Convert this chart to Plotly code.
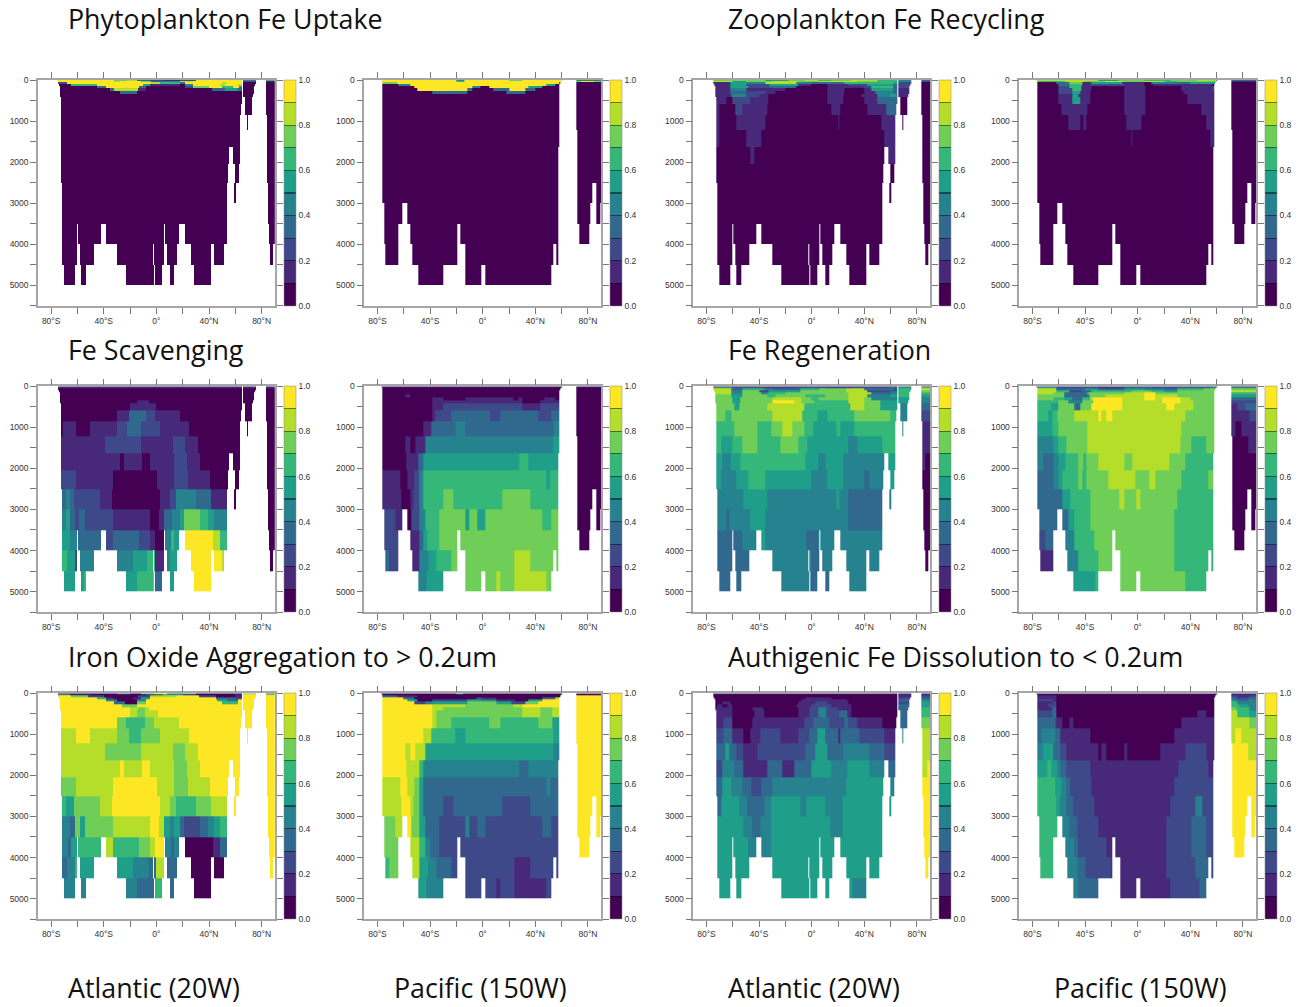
import numpy as np
import plotly.graph_objects as go

W, H = 1305, 1007

# Depth level edges (m) and latitude grid
DEPTH_EDGES = [0,30,60,100,150,200,260,330,420,590,855,1220,1620,2050,2510,3000,3500,4000,4500,5000]
LAT_EDGES = np.arange(-90, 90.01, 0.25)

# Colour classes, 0.0-0.1 ... 0.9-1.0
CLASS_COLORS = ["#440154","#482878","#3e4989","#31688e","#26828e","#1f9e89","#35b779","#6ece58","#b5de2b","#fde725"]
CBAR_TICKS = [0,0.2,0.4,0.6,0.8,1.0]
CBAR_LABELS = ["0.0","0.2","0.4","0.6","0.8","1.0"]
X_TICKS = list(range(-80,81,20))
X_LABELS = ["80°S","","40°S","","0°","","40°N","","80°N"]
Y_TICKS = list(range(0,5501,500))
Y_LABELS = ["0","","1000","","2000","","3000","","4000","","5000",""]

# Wet latitude intervals per depth level
ATL_WET = [
 [-75,65,66,75.5,83.3,90],[-75,65,66,75.5,83.3,90],[-74.5,65,66,75.5,83.3,90],[-74,65,66,75,83.3,90],
 [-73.5,65,66,74.5,83.3,90],[-73.5,65,66,74,83.3,90],[-73.5,65,66,74,83.3,90],[-73.5,65,66,73.5,83.3,90],
 [-72.7,65,67,73,83.3,90],[-72.5,64.6,67.4,72.5,83.3,90],[-72.5,63.4,68.4,69.4,84,90],[-72.5,63.4,84.2,90],
 [-72.5,55.6,58.6,63.4,84.2,90],[-72.5,54.5,59.8,62.6,84.2,90],[-71.5,53.5,59,60.6,84.6,90],[-71.5,53.5,84.6,90],
 [-71.5,-60.4,-59.3,-41.7,-38.4,5.6,6.6,17.4,21.5,53.5,85.4,90],
 [-71.5,-60.6,-58.3,-47.5,-30.3,-2.2,-1.5,5.5,7.8,15.7,26.5,41.4,43.4,51.5,86.4,89],
 [-70.5,-61.6,-57.6,-53.5,-23.2,-1.8,-0.8,4.3,10.4,13.4,28.5,41.4],
]
PAC_WET = [
 [-77,60.6,71,90],[-76.5,59.5,71,90],[-76,59,71,90],[-76,58,71,90],[-76,58,71,90],[-76,58,71,90],[-76,58,71,90],
 [-76,58,71,90],[-76,58,71,90],[-76,58,71,90],[-76,58,71,90],[-76,58,72,90],[-76,57.3,72,90],[-76,57.3,72,90],
 [-76,57.3,72,83,86.4,90],[-74.7,-60.9,-57.6,57.3,72,82,86.4,89.4],
 [-74.7,-63.9,-54.8,-19,-17,57.3,73.2,80.8],
 [-73.7,-63.9,-53.8,-19,-12.9,54,56,57.3],
 [-48.7,-29.8,-12.9,-0.8,2.3,52.3],
]

# Each level: class, next lat, class, next lat, class ...  Levels not listed are class 0.
UPTAKE_ATL = [
 [9,-32,7,-22,8,-15,3,-5,2,5,1,18,2,30,9,66,4,83,6],
 [9,-33,8,-28,9,-12,7,-4,3,4,4,18,8,28,9,66,2,83,1],
 [2,-68,9,-5,8,3,6,18,3,22,9,50,8,54,9,66,0],
 [0,-65,6,-45,9,-10,5,-5,1,18,0,22,4,28,9,48,8,52,9,62,8,66,0],
 [0,-45,3,-38,9,-13,3,-8,0,22,2,28,7,40,9,50,6,58,9,63,4,66,0],
 [0,-35,3,-32,8,-14,1,-8,0,42,3,52,5,62,3,66,0],
 [0,-28,3,-15,0],
]
UPTAKE_PAC = [
 [9,-20,4,-14,9,20,7,30,9,71,4],
 [9,-20,6,-14,9,71,7,75,9,85,7],
 [7,-65,9,58,0],
 [0,-64,4,-55,9,48,5,55,0],
 [0,-52,9,-8,4,-2,0,5,9,35,5,45,0],
 [0,-50,9,-40,9,-12,3,-8,0,8,3,20,9,32,3,40,0],
 [0,-38,3,-12,0,18,3,32,0],
]
RECYCLE_ATL = [
 [7,-35,5,-18,7,-5,8,5,6,15,7,30,8,50,6,66,4,83,3],
 [8,-60,5,-50,7,-30,8,-10,7,5,8,20,8,35,7,50,6,66,4,83,2],
 [1,-62,5,-50,4,-35,8,-12,4,0,3,25,6,62,5,66,2,83,0],
 [1,-62,5,-50,2,-32,5,-10,1,0,0,12,1,28,2,42,5,62,3,66,2,83,0],
 [1,-62,5,-48,2,-32,3,-12,0,12,1,28,1,40,2,45,6,62,3,66,2,83,0],
 [1,-62,4,-50,1,-32,1,-20,0,12,1,25,0,40,1,45,5,62,3,66,1,83,0],
 [1,-62,3,-50,2,-35,1,-28,0,12,1,25,0,40,1,48,4,62,3,66,1,83,0],
 [1,-61,4,-50,2,-40,1,-33,0,12,1,24,0,38,1,50,4,60,5,64,3,66,1,83,0],
 [1,-65,0,-60,2,-47,1,-33,0,12,1,24,0,40,1,50,3,60,3,66,0],
 [1,-70,0,-58,2,-53,1,-34,0,15,1,22,0,42,1,57,3,64,0],
 [1,-70,0,-57,1,-35,0,20,1,21,0,53,1,64,0],
 [1,-70,0,-50,1,-38,0,55,1,64,0],
 [0,-47,1,-44,0,58,1,64,0],
]
RECYCLE_PAC = [
 [8,-30,5,-15,7,5,6,25,7,45,8,60,3],
 [6,-55,8,-40,7,-25,8,-12,7,5,8,20,6,30,7,60,1],
 [0,-62,3,-52,7,-42,1,-35,5,-12,1,5,0,10,4,30,3,40,5,60,0],
 [0,-60,3,-52,6,-42,1,-36,2,-10,1,5,0,12,1,33,1,57,0],
 [0,-60,2,-52,6,-43,1,-35,0,-10,1,6,0,33,1,57,2,60,0],
 [0,-60,2,-50,6,-43,1,-35,0,-10,1,6,0,33,1,57,2,60,0],
 [0,-60,2,-50,5,-44,1,-36,0,-10,1,6,0,35,1,58,0],
 [0,-60,1,-50,5,-45,1,-36,0,-10,1,6,0,38,1,58,0],
 [0,-60,1,-50,5,-44,1,-36,0,-10,1,6,0,38,1,58,0],
 [0,-58,1,-38,0,-10,1,6,0,48,1,58,0],
 [0,-53,1,-44,0,-41,1,-39,0,-9,1,3,0,52,1,58,0],
 [0,-5,1,-4,0,55,1,58,0],
]
SCAV_ATL = [
 [1],[1],[0],[0],[0],[0],[0],
 [0,-15,1,-6,0],
 [0,-20,1,0,0],
 [0,-30,1,-21,3,-8,2,-1,1,18,0],
 [0,-71,1,-61,0,-50.5,1,-30,2,-22,3,-12,2,3,1,24.5,0],
 [1,-39,2,-12,1,12.6,2,22,1,31.5,0],
 [1,-28,0,-25,1,-11,0,-4.5,1,13,2,23,1,33,0],
 [2,-61,1,-33,0,0.5,1,13,2,24,1,41,0],
 [3,-69,4,-66,3,-63,2,-43,1,-34,0,2.5,1,10.6,2,15,4,30,3,41.5,1,56,0],
 [4,-69,5,-66,3,-62,2,-59,3,-54,2,-33,1,-4.5,0,2,1,6,3,12,4,18,5,21,7,33,6,39,5,44,4,56,0],
 [5,-66,4,-60,3,-39,2,-33,3,-13,2,-5,1,-1,0,6,4,11,6,13,5,21,9,43,8,48,6,56,0],
 [6,-68,5,-62,2,-60,4,-18,5,-7,6,-1,1,7,4,10,5,26,9,50,8,56,0],
 [5,-55,6,-23,5,-15,6,-2.5,7,-1,3,8,5,26,9],
]
SCAV_PAC = [
 [1],[0],[0],[0],[0],
 [0,-59,1,-55,0],
 [0,-38,1,-30,0,-13,1,23,0,27,1,30,0,47,1,55,0],
 [0,-38,1,-13,1,30,0,44,1,58,0],
 [0,-38,1,-30,2,30,1,44,2,58,0],
 [0,-38,1,-36,2,-24,3,5.5,2,13,3,42,2,52,3,58,0],
 [0,-45,1,-39,3,-21,4,-13,3,54,4,58,0],
 [0,-59,1,-55,0,-51,1,-44,4,54,5,58,0],
 [0,-58,1,-49,3,-45,5,28,6,35,5,58,0],
 [1,-63,0,-57,1,-52,2,-48,4,-45,6,48,5,51.5,6,58,0],
 [1,-62,0,-55,1,-53,2,-48,4,-45,6,-30,7,-22,6,15,7,36,6,58,0],
 [2,-66.5,1,-60,0,-54,2,-48,4,-44,6,-33,7,-13,5,-10,7,-4,5,2,7,45,6,52,7,58,0],
 [2,-60,1,-48,3,-45,5,-42,6,-33,7,58,0],
 [3,-71,2,-60,1,-48,4,-41,5,-35,6,-24,7,24,8,36,7],
 [4,-42.5,5,-30,7,10,8,13,7,24,8,48.5,7],
]
REGEN_ATL = [
 [1,66,3,83,2],
 [6,-60,3,-35,2,-10,3,10,2,30,3,60,4,66,5,83,7],
 [8,-61,3,-53,6,-37,4,-29,3,-9,6,6,7,26,8,40,3,62,2,66,6,83,8],
 [8,-61,4,-53,7,-40,2,-33,5,-9,7,26,8,42,2,60,3,66,6,83,7],
 [8,-61,4,-53,7,-38,4,-34,6,-20,7,28,8,45,3,60,4,66,6,83,6],
 [7,-61,5,-53,7,-34,6,-28,7,-5,6,10,7,28,8,42,4,60,5,66,6,83,5],
 [7,-60,5,-54,7,-30,8,-8,7,0,6,5,7,28,8,40,7,45,4,66,5,83,4],
 [7,-60,5,-54,7,-30,9,-13,8,-8,7,2,6,28,8,40,7,52,5,66,5,83,4],
 [7,-59,5,-55,7,-34,8,-6,6,29,8,40,7,52,5,66,4,83,3],
 [7,-66,6,-61,7,-30,8,-7,6,4,5,12,6,32,7,60,6,66,4,83,2],
 [6,-59,7,-41,6,-31,7,-22,8,-15,7,-6,6,1,5,19,6,22,5,32,6,66,4,83,1],
 [6,-69,5,-60,6,-53,7,-41,6,-24,7,-10,6,-3,5,28,4,35,5,54,6,66,1],
 [5,-68,4,-62,5,-54,6,-5,5,5,4,10,5,24,4,55,5,66,1,86,0],
 [5,-69,4,-57,5,-48,6,-35,5,0,4,12,5,24,4,40,3,44,4,55,5,66,0],
 [4,-52,5,-34,4,19,5,21,4,28,3,56,4,66,0],
 [4,-65,3,-63,4,-47,5,-35,4,28,3,56,0],
 [3,-53,4,-38,5,-35,4,-4,3,5,4,56,0],
 [3,-40,4,0,3,9,4,56,0],
 [3,-30,4,-2,3,27,4,35,4,56,0],
]
REGEN_PAC = [
 [2,71,1],
 [6,-62,2,-30,1,-10,3,10,2,30,3,55,5,60,0,71,5],
 [8,-62,3,-40,5,-30,3,-10,5,5,4,20,3,30,6,50,7,60,0,71,7],
 [8,-62,6,-52,2,-42,3,-35,6,-5,7,10,6,20,5,30,7,60,0,71,8],
 [8,-64,7,-56,3,-38,7,-10,8,5,9,13,7,60,0,71,6],
 [7,-56,3,-37,7,-25,8,5,9,13,8,30,7,60,0,71,5],
 [7,-64,6,-56,5,-50,3,-42,6,-36,8,-34,9,-12,8,5,9,13,8,19,9,32,8,40,7,60,0,71,3],
 [6,-60,7,-53,4,-42,7,-34,9,-12,8,19,9,32,8,42,7,60,0,71,2],
 [6,-66,5,-60,7,-48,3,-44,7,-35,9,-12,8,22,9,28,8,42,7,60,1,76,2,82,3],
 [6,-68,5,-65,6,-61,7,-48,8,-30,9,-28,8,-24,9,-19,8,36,7,60,1,85,2],
 [5,-65,6,-60,7,-38,8,33,7,60,1,74,0,79,1],
 [4,-64,5,-60,6,-54,7,-38,8,32,7,41,6,52,7,60,0,84,1],
 [4,-72,3,-64,4,-60,5,-55,6,-45,7,-41,6,-39,7,-30,8,-10,7,-4,8,24,7,36,6,60,0],
 [3,-64,4,-60,5,-57,6,-45,7,-42,6,-39,7,-22,8,-2,7,9,8,13,7,33,6,54,7,60,0],
 [3,-57,5,-51,6,-36,7,-14,8,-10,7,-1,8,2,7,30,6,60,0],
 [3,-53,5,-48,6,-36,7,28,6,60,0],
 [2,-70,3,-60,4,-48,6,-33,7,28,6,60,0],
 [1,-60,4,-45,6,-30,7,28,6],
 [5,-32,6,-20,7,36,6],
]
OXIDE_ATL = [
 [0,-30,3,-20,0,-12,6,-2,8,8,3,20,5,30,0,66,7,83,3],
 [6,-66,1,-50,0,-8,1,5,5,20,1,30,0,60,1,66,9,83,8],
 [9,-65,7,-52,2,-40,0,-14,2,-5,8,15,9,32,2,45,0,60,1,66,9],
 [9,-45,6,-38,1,-32,0,-18,1,-12,5,-5,9,45,3,60,2,66,9],
 [9,-38,4,-30,0,-15,4,-8,9,46,5,54,3,62,9],
 [9,-32,3,-24,0,-15,7,-8,9,50,6,62,9],
 [9,-26,7,-15,9],
 [9,-20,8,-14,7,-9,8,-6,9],
 [9,-20,8,-15,7,-9,8,1,9],
 [9,-30,7,-23,6,-9,7,-2,8,17,9],
 [8,-61,9,-50.5,8,-30,7,-21,6,-12,7,3,8,24.5,9],
 [8,-39,7,-12,8,12.6,7,22,8,31.5,9],
 [8,-28,9,-25,8,-11,9,-4.5,8,13,7,23,8,33,9],
 [7,-61,8,-33,9,0.5,8,13,7,24,8,41,9],
 [6,-69,5,-63,7,-43,8,-34,9,2.5,8,10.6,7,15,6,30,7,41.5,8,56,9],
 [4,-66,3,-62,7,-58,5,-54,7,-33,8,-4.5,9,2,8,6,5,10,4,13,5,18,3,21,2,33,3,39,4,44,5,48,6,56,9],
 [4,-67,3,-65,5,-60,6,-39,8,-33,6,-13,7,-5,8,-1,9,6,4,11,3,13,4,21,0,43,1,48,3,56,9],
 [3,-68,4,-62,6,-60,5,-18,4,-6,3,0,8,7,3,26,0,56,9],
 [4,-15,3,-1,6,8,3,26,0,56,9],
]
OXIDE_PAC = [
 [0,-20,5,-15,0,71,1],
 [0],
 [3,-65,1,-50,0,71,9],
 [9,-60,3,-52,0,-5,2,0,1,10,0,45,3,55,8,58,0,71,9],
 [9,-57,5,-50,0,-38,2,-12,5,-1,4,10,1,25,0,35,5,45,9,58,0,71,9],
 [9,-52,2,-44,4,-38,5,-12,7,10,5,22,2,32,7,42,9,58,0,71,9],
 [9,-38,8,-13,7,23,8,30,9],
 [9,-38,8,-30,7,30,8,44,7,53,8,58,9],
 [9,-38,8,-35,7,30,8,44,7,53,8,58,9],
 [9,-38,8,-35,7,-24,6,5,7,13,6,42,7,53,5,58,9],
 [9,-45,8,-39,6,-21,5,-13,6,54,5,58,9],
 [9,-59,8,-55,9,-51,8,-44,5,54,4,58,9],
 [9,-58,8,-48,6,-45,4,28,3,35,4,58,9],
 [8,-63,9,-57,8,-52,7,-48,5,-45,3,48,4,51.5,3,58,9],
 [8,-62,9,-55,8,-53,7,-48,5,-45,3,-30,2,-22,3,15,2,36,3,58,9],
 [7,-66.5,8,-60,9,-54,7,-48,5,-44,3,-33,2,-13,4,-10,2,-4,3,2,2,45,3,52,2,58,9],
 [7,-60,8,-48,6,-44,4,-40,3,-33,2,58,9],
 [6,-71,7,-60,8,-48,5,-41,4,-35,3,-24,2,24,1,36,2,58,9],
 [5,-42.5,4,-30,2,10,1,13,2,24,1,48.5,2],
]
DISS_ATL = [
 [1],
 [0,66,1,83,1],
 [0,66,1,83,2],
 [0,-5,1,15,0,66,2,83,3],
 [0,-8,1,27,0,66,3,83,4],
 [0,-68,1,-62,0,-10,1,3,2,12,1,28,0,66,2,83,5],
 [0,-72,1,-68,0,-64,1,-60,0,-12,1,0,2,15,1,30,0,66,3,83,5],
 [1,-60,0,-45,1,-37,0,-10,1,-2,2,5,4,11,2,20,1,30,0,66,3,83,6],
 [1,-60,0,-44,1,-36,0,-10,1,-2,2,5,4,11,2,21,3,27,1,30,0,66,3,83,6],
 [1,-67,2,-60,0,-45,1,-6,2,1,3,13,2,25,3,28,2,35,1,54,0,66,3,83,7],
 [2,-67,3,-60,1,-52,0,-47,1,-39,2,-24,1,-10,2,-2,3,4,5,10,3,20,1,22,3,36,2,55,1,66,4,83,8],
 [3,-66,5,-63,3,-57,2,-52,1,-41,2,-5,3,3,5,12,3,24,4,44,3,55,2,66,8],
 [2,-68,4,-59,3,-52,1,-34,3,-22,1,-13,3,0,5,15,4,27,5,44,4,55,3,66,8,88,9],
 [3,-68,5,-61,4,-53,3,-46,2,-38,3,-30,4,26,5,55,4,66,9],
 [3,-69,5,-55,4,-49,3,-36,4,-31,5,-9,4,-4,5,10,4,23,5,66,9],
 [5,-52,4,-45,3,-39,4,-31,5,14,4,23,5,66,9],
 [5,-48,4,-31,5,66,9],
 [5,66,9],
 [5,31,4,66,9],
]
DISS_PAC = [
 [1],
 [0,71,1],
 [1,-62,0,71,2,76,1,85,2],
 [1,-62,0,71,3,75,2,84,3],
 [2,-65,1,-62,0,71,4,76,3,84,4],
 [1,-65,2,-62,0,71,6,76,4],
 [1,-68,2,-62,0,71,6,77,5,84,4],
 [1,-65,3,-62,0,71,7,75,6,85,4],
 [2,-65,3,-62,0,45,1,52,0,71,8,76,6,85,5],
 [3,-63,2,-62,1,-57,0,-52,1,-49,0,33,1,60,8,85,7],
 [3,-73,4,-63,3,-59,1,-36,0,28,1,60,8,74,9,79,8],
 [4,-72,5,-64,3,-59,2,-54,1,-30,0,-28,1,-24,0,-10,1,-8,0,17,1,36,2,52,1,60,9,84,8],
 [5,-69,6,-66,5,-61,4,-59,3,-54,2,-36,1,31,2,54,1,60,9],
 [6,-63,5,-58,4,-54,3,-51,2,-35,1,28,2,60,9],
 [6,-62,5,-59,4,-54,3,-49,2,-33,1,25,2,44,4,49,2,60,9],
 [6,-60,4,-52,3,-46,2,-30,1,22,2,41,3,52,2,60,9],
 [6,-60,4,-48,3,-45,2,-24,1,22,2,41,3,52,2,60,9],
 [6,-60,4,-46,3,-40,2,-20,1,22,2,44,3,54,2,60,9],
 [4,-45,3,-20,1,25,2,47,3],
]

PANELS = [
 (UPTAKE_ATL,ATL_WET),(UPTAKE_PAC,PAC_WET),(RECYCLE_ATL,ATL_WET),(RECYCLE_PAC,PAC_WET),
 (SCAV_ATL,ATL_WET),(SCAV_PAC,PAC_WET),(REGEN_ATL,ATL_WET),(REGEN_PAC,PAC_WET),
 (OXIDE_ATL,ATL_WET),(OXIDE_PAC,PAC_WET),(DISS_ATL,ATL_WET),(DISS_PAC,PAC_WET),
]
TITLES = [
 ("Phytoplankton Fe Uptake",66,19),("Zooplankton Fe Recycling",726,19),
 ("Fe Scavenging",66,349.5),("Fe Regeneration",726,349.5),
 ("Iron Oxide Aggregation to > 0.2um",66,656.5),("Authigenic Fe Dissolution to < 0.2um",726,656.5),
 ("Atlantic (20W)",66,987),("Pacific (150W)",392,987),("Atlantic (20W)",726,987),("Pacific (150W)",1052,987),
]

# Page geometry, in pixels
COL_L = [38,364.3,693.3,1019.3]
COL_CB = [283.7,609.7,939,1265]
ROW_T = [80,386.3,693.3]
PLOT_W, PLOT_H = 236.8, 225.8


def build_z(rows, wet):
    centers = (LAT_EDGES[:-1] + LAT_EDGES[1:]) / 2
    z = np.full((len(DEPTH_EDGES) - 1, centers.size), np.nan)
    for i in range(z.shape[0]):
        segs = rows[i] if i < len(rows) else [0]
        band = np.full(centers.size, float(segs[0]))
        for k in range(1, len(segs), 2):
            band[centers >= segs[k]] = segs[k + 1]
        w = wet[i]
        keep = np.zeros(centers.size, bool)
        for a, b in zip(w[0::2], w[1::2]):
            keep |= (centers >= a) & (centers < b)
        z[i, keep] = (band[keep] + 0.5) / 10
    return z


def darker(hex_color, f=0.55):
    v = [int(hex_color[i:i + 2], 16) for i in (1, 3, 5)]
    return "#%02x%02x%02x" % tuple(int(x * f) for x in v)


def stepped_scale():
    eps = 0.003
    scale = []
    for i, c in enumerate(CLASS_COLORS):
        lo = i / 10 + (eps if i else 0)
        hi = (i + 1) / 10 - (eps if i < 9 else 0)
        if i:
            line = darker(CLASS_COLORS[i - 1])
            scale.append([i / 10 - eps, line])
            scale.append([lo, line])
        scale.append([lo, c])
        scale.append([hi, c])
    return scale


AXIS_GRAY = "#a6a6a6"
TICK_FONT = dict(family="Liberation Sans", size=8.5, color="#333333")
fig = go.Figure()
scale = stepped_scale()
layout_axes = {}
for idx, (rows, wet) in enumerate(PANELS):
    r, c = idx // 4, idx % 4
    n = idx + 1
    sfx = "" if idx == 0 else str(n)
    l, t = COL_L[c], ROW_T[r]
    fig.add_trace(go.Heatmap(
        x=LAT_EDGES, y=DEPTH_EDGES, z=build_z(rows, wet),
        xaxis=f"x{sfx}", yaxis=f"y{sfx}",
        zmin=0, zmax=1, colorscale=scale, hoverongaps=False,
        colorbar=dict(
            x=COL_CB[c] / W, xanchor="left", xref="paper",
            y=1 - (t + PLOT_H / 2) / H, yanchor="middle", yref="paper",
            len=PLOT_H / H, lenmode="fraction",
            thickness=12, thicknessmode="pixels", xpad=0, ypad=0,
            outlinecolor="#888888", outlinewidth=0.5,
            tickmode="array", tickvals=CBAR_TICKS, ticktext=CBAR_LABELS,
            ticks="", tickfont=TICK_FONT, ticklabelposition="outside",
        ),
    ))
    layout_axes[f"xaxis{sfx}"] = dict(
        domain=[l / W, (l + PLOT_W) / W], anchor=f"y{sfx}", range=[-90, 90], automargin=False,
        tickmode="array", tickvals=X_TICKS, ticktext=X_LABELS, tickfont=TICK_FONT, tickangle=0,
        ticks="outside", ticklen=6, tickwidth=1, tickcolor="#777777",
        showline=True, linecolor=AXIS_GRAY, linewidth=1.5, mirror="ticks",
        showgrid=False, zeroline=False,
    )
    layout_axes[f"yaxis{sfx}"] = dict(
        domain=[1 - (t + PLOT_H) / H, 1 - t / H], anchor=f"x{sfx}", range=[5500, 0], automargin=False,
        tickmode="array", tickvals=Y_TICKS, ticktext=Y_LABELS, tickfont=TICK_FONT,
        ticks="outside", ticklen=6, tickwidth=1, tickcolor="#777777",
        showline=True, linecolor=AXIS_GRAY, linewidth=1.5, mirror="ticks",
        showgrid=False, zeroline=False,
    )

annotations = [
    dict(text=txt, x=x / W, y=1 - y / H, xref="paper", yref="paper", xanchor="left", yanchor="middle",
         showarrow=False, font=dict(family="Open Sans", size=26.8, color="#111111"))
    for txt, x, y in TITLES
]
fig.update_layout(template="none", width=W, height=H, margin=dict(l=0, r=0, t=0, b=0), paper_bgcolor="white",
                  plot_bgcolor="white", showlegend=False, annotations=annotations, **layout_axes)
fig.write_html("out.html", post_script="document.body.style.margin='0';", config={"displayModeBar": False})
